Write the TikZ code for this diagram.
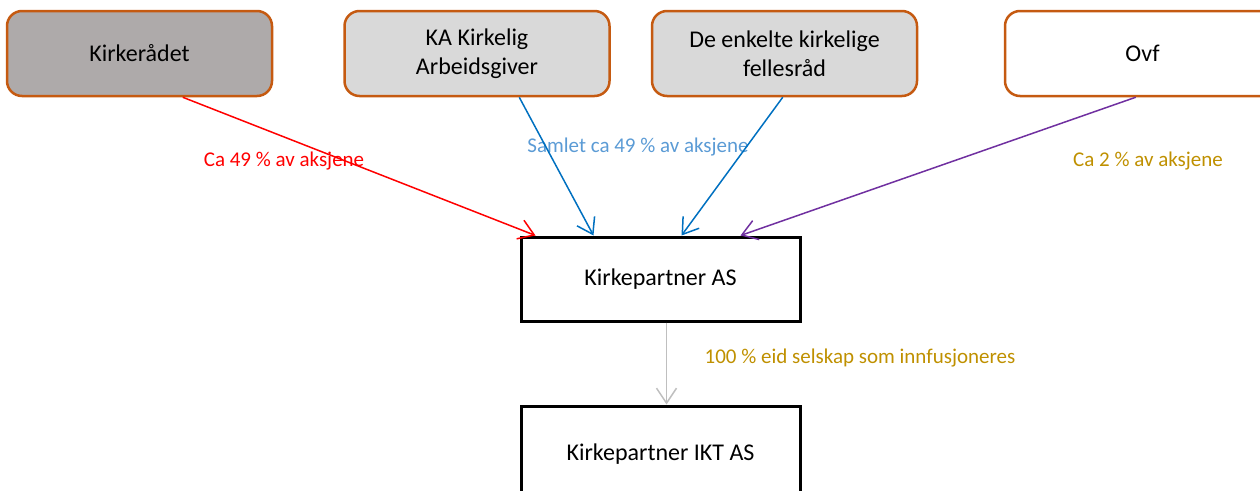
\documentclass[tikz,border=0pt]{standalone}
\usepackage{fontspec}
\setmainfont{Carlito}
\usetikzlibrary{arrows.meta}
\definecolor{borderorange}{HTML}{C55A11}
\definecolor{darkgray}{HTML}{AEAAAA}
\definecolor{lightgray}{HTML}{D9D9D9}
\definecolor{lineblue}{HTML}{0070C0}
\definecolor{labelblue}{HTML}{5B9BD5}
\definecolor{linepurple}{HTML}{7030A0}
\definecolor{labelgold}{HTML}{BF9000}
\definecolor{arrowgray}{HTML}{BFBFBF}
\tikzset{
  topbox/.style={draw=borderorange, line width=2.5pt, rounded corners=15pt,
    minimum width=265pt, minimum height=85pt, inner sep=0pt, align=center,
    font=\fontsize{24}{29}\selectfont},
  kpbox/.style={draw=black, line width=3pt, fill=white,
    minimum width=279pt, minimum height=84pt, inner sep=0pt, align=center,
    font=\fontsize{24}{29}\selectfont},
  lbl/.style={font=\fontsize{21}{25}\selectfont, inner sep=0pt},
  conn/.style={line width=1.5pt, -{Straight Barb[length=15pt,width=20pt,line width=1.5pt]}}
}
\begin{document}
\begin{tikzpicture}[x=1pt,y=-1pt]
\useasboundingbox (0,0) rectangle (1260,490);
\begin{scope}
\clip (0,0) rectangle (1260,490);
\node[topbox, fill=darkgray] (kr) at (139.5,53.5) {Kirkerådet};
\node[topbox, fill=lightgray] (ka) at (477,53.5) {KA Kirkelig\\Arbeidsgiver};
\node[topbox, fill=lightgray] (fr) at (784.5,53.5) {De enkelte kirkelige\\fellesråd};
\node[topbox, fill=white, minimum width=275pt] (ovf) at (1142.5,53.5) {Ovf};
\node[kpbox] (kp) at (660.5,279) {Kirkepartner AS};
\node[kpbox, minimum height=96pt] (ikt) at (660.5,454) {Kirkepartner IKT AS};

\node[lbl, text=red] (l1) at (284,161) {Ca 49 \% av aksjene};
\node[lbl, text=labelblue] (l2) at (638,147) {Samlet ca 49 \% av aksjene};
\node[lbl, text=labelgold] (l3) at (1148,161) {Ca 2 \% av aksjene};
\node[lbl, text=labelgold] (l4) at (860,358) {100 \% eid selskap som innfusjoneres};

\draw[conn, red] ([xshift=177pt]kr.south west) -- ([xshift=16pt]kp.north west);
\draw[conn, lineblue] ([xshift=176pt]ka.south west) -- ([xshift=74pt]kp.north west);
\draw[conn, lineblue] ([xshift=132pt]fr.south west) -- ([xshift=162pt]kp.north west);
\draw[conn, linepurple] ([xshift=132pt]ovf.south west) -- ([xshift=221pt]kp.north west);
\draw[conn, arrowgray] ([xshift=147pt]kp.south west) -- ([xshift=147pt]ikt.north west);
\end{scope}
\end{tikzpicture}
\end{document}
